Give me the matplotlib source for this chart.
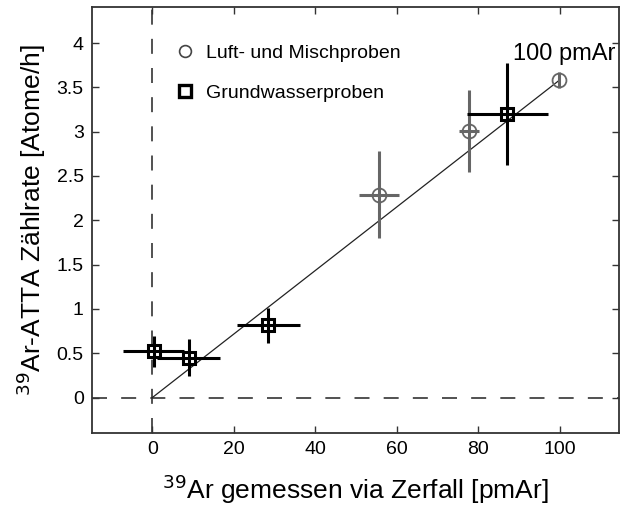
import numpy as np
import matplotlib
matplotlib.use('Agg')
import matplotlib.pyplot as plt
from matplotlib.lines import Line2D

plt.rcParams['font.family'] = ['Liberation Sans', 'DejaVu Sans']

# Luft- und Mischproben (grau, Kreise)
luft_x = [55.6, 77.7, 99.7]
luft_y = [2.29, 3.01, 3.585]
luft_xerr = [5.0, 2.4, 0.0]
luft_yerr = [0.49, 0.46, 0.09]

# Grundwasserproben (schwarz, Quadrate)
gw_x = [0.3, 8.9, 28.5, 87.1]
gw_y = [0.52, 0.45, 0.815, 3.20]
gw_xerr = [7.5, 7.7, 7.8, 10.0]
gw_yerr = [0.18, 0.21, 0.20, 0.58]

fit_x = [0, 100]
fit_y = [0, 3.585]

fig = plt.figure(figsize=(6.22, 5.05), dpi=100)
ax = fig.add_axes([0.148, 0.1426, 0.8477, 0.8441])

ax.axvline(0, color='#333333', lw=1.2, dashes=(9, 8.5), zorder=1)
ax.axhline(0, color='#333333', lw=1.2, dashes=(9, 8.5), zorder=1)
ax.plot(fit_x, fit_y, color='#222222', lw=0.9, zorder=2)

ax.errorbar(luft_x, luft_y, xerr=luft_xerr, yerr=luft_yerr, fmt='o', ms=10,
            mfc='none', mec='#666666', mew=1.3, ecolor='#666666', elinewidth=2.2,
            capsize=0, zorder=3)
ax.errorbar(gw_x, gw_y, xerr=gw_xerr, yerr=gw_yerr, fmt='s', ms=8.5,
            mfc='none', mec='black', mew=2.2, ecolor='black', elinewidth=2.2,
            capsize=0, zorder=4)

ax.text(101, 3.81, '100 pmAr', fontsize=17, ha='center', va='baseline')

handles = [Line2D([], [], ls='none', marker='o', ms=8.5, mfc='none', mec='#444444', mew=1.2),
           Line2D([], [], ls='none', marker='s', ms=8.5, mfc='none', mec='black', mew=2.4)]
ax.legend(handles, ['Luft- und Mischproben', 'Grundwasserproben'], loc='upper left',
          bbox_to_anchor=(0.121, 0.952), frameon=False, fontsize=14, labelspacing=1.12,
          handletextpad=0.48, handlelength=1.2)

ax.set_xlim(-14.8, 114.6)
ax.set_ylim(-0.4, 4.41)
ax.set_xticks([0, 20, 40, 60, 80, 100])
ax.set_yticks([0, 0.5, 1, 1.5, 2, 2.5, 3, 3.5, 4])
ax.set_yticklabels(['0', '0.5', '1', '1.5', '2', '2.5', '3', '3.5', '4'])
ax.tick_params(direction='in', length=5, width=1, labelsize=14, top=True, right=True,
               color='#333333', pad=6)
for s in ax.spines.values():
    s.set_linewidth(1.3)
    s.set_color('#333333')

ax.set_xlabel(r'$^{39}$Ar gemessen via Zerfall [pmAr]', fontsize=19, labelpad=10)
ax.set_ylabel(r'$^{39}$Ar-ATTA Zählrate [Atome/h]', fontsize=19, labelpad=6)

fig.savefig('out.png', dpi=100)
